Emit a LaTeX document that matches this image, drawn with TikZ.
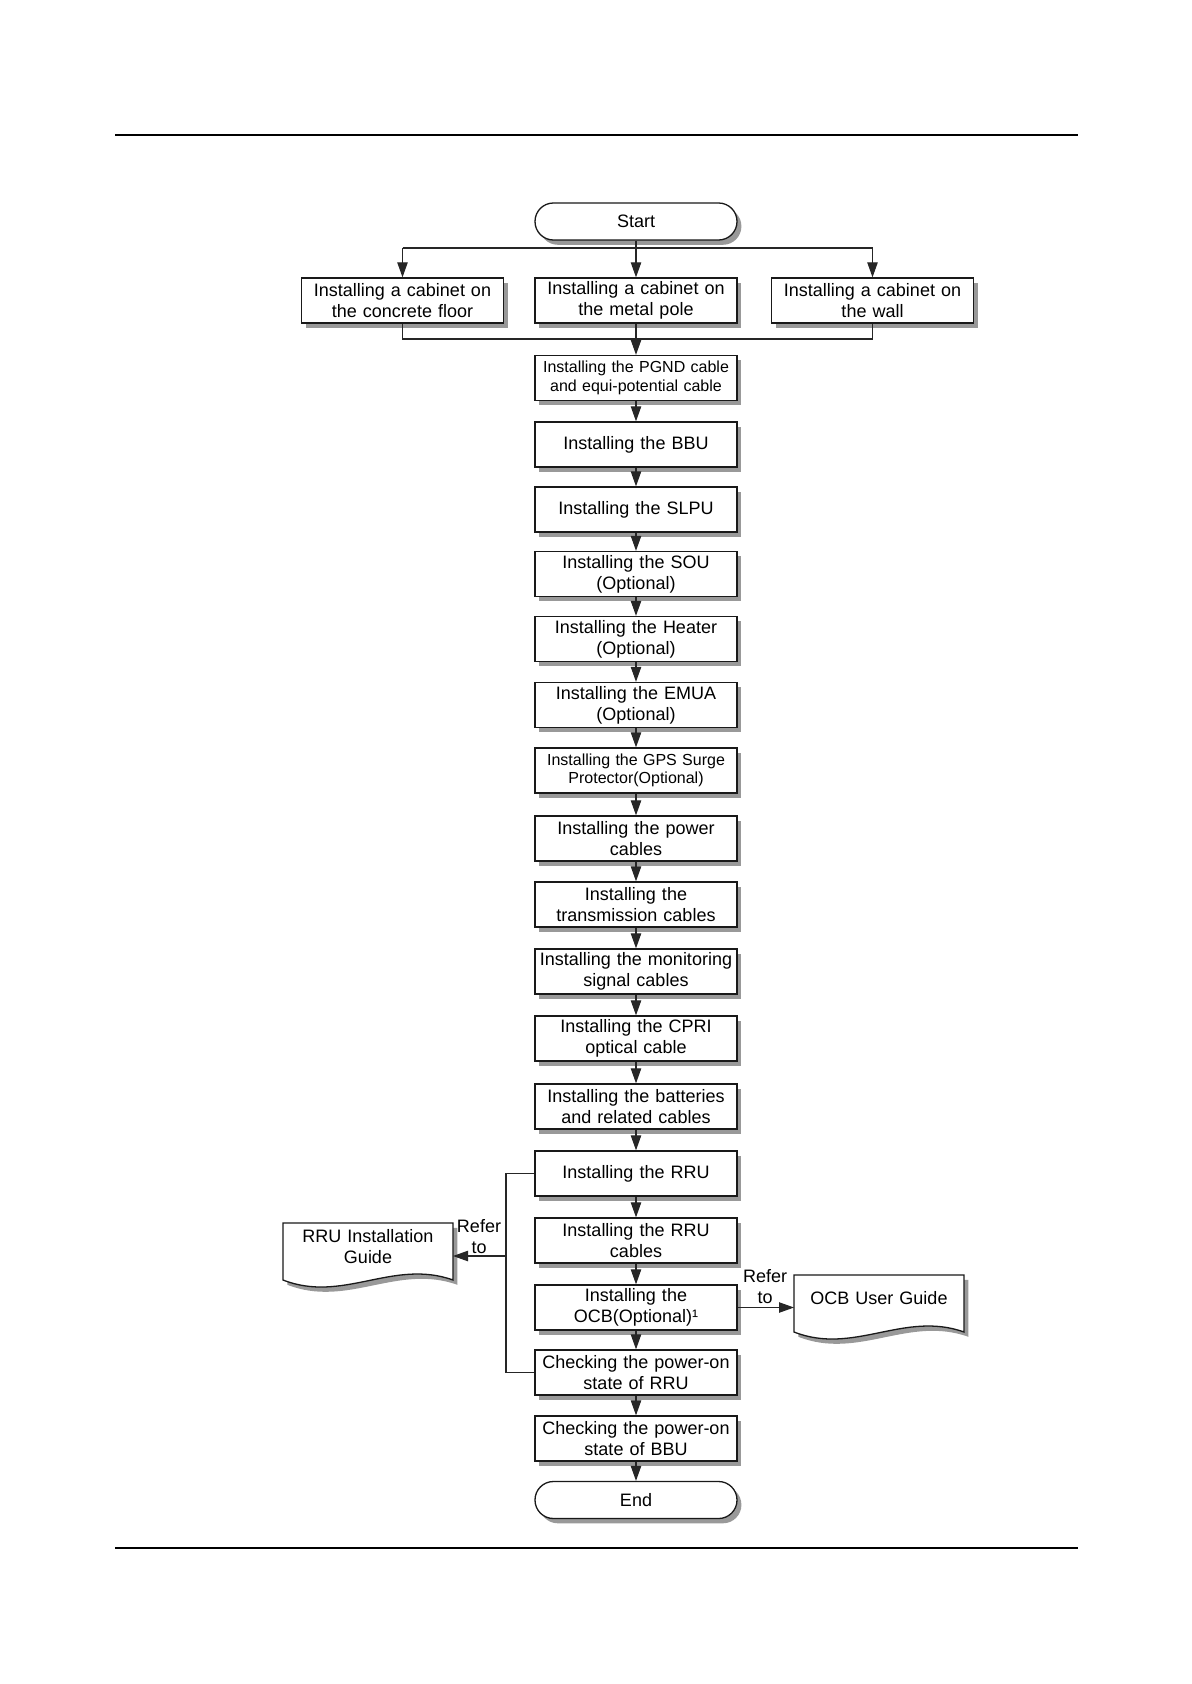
\documentclass[tikz,border=0pt]{standalone}
\usepackage{fontspec}
\setmainfont{Liberation Sans}
\usetikzlibrary{arrows.meta,shadows,calc}
\newcommand\DocOutline[2]{(#1-85,#2-23.5) -- (#1+85,#2-23.5) -- (#1+85,#2+33.5) .. controls (#1+25,#2+12) and (#1-25,#2+57) .. (#1-85,#2+33.5) -- cycle}
\begin{document}
\begin{tikzpicture}[x=0.5pt,y=-0.5pt,
  box/.style={draw=black!90, line width=0.65pt, fill=white, minimum width=101pt, minimum height=22.5pt, text width=98pt, align=center, inner sep=0pt, font=\fontsize{9}{10.5}\selectfont, drop shadow={shadow xshift=2.2pt, shadow yshift=-2.4pt, fill=black!40, opacity=1}},
  smallbox/.style={box, font=\fontsize{8}{9.3}\selectfont},
  term/.style={box, minimum height=18.5pt, rounded corners=9.2pt},
  conn/.style={draw=black!85, line width=0.55pt},
  arr/.style={conn, -{Triangle[length=7.5pt,width=5.2pt]}},
  lbl/.style={font=\fontsize{9}{10.5}\selectfont, align=center, inner sep=0pt},
  doctext/.style={lbl, text width=82pt},
  docline/.style={draw=black!90, line width=0.65pt, fill=white},
  docshadow/.style={fill=black!40, xshift=2.2pt, yshift=-2.4pt},
  rule/.style={draw=black, line width=0.8pt}
]
\useasboundingbox (0,0) rectangle (1191,1684);

% header and footer rules
\coordinate (hl) at (115,135);
\coordinate (hr) at (1078,135);
\coordinate (fl) at (115,1548);
\coordinate (fr) at (1078,1548);
\draw[rule] (hl) -- (hr);
\draw[rule] (fl) -- (fr);

% nodes
\node[term] (start) at (636,221.5) {Start};
\node[box] (cab1) at (402.5,300.5) {Installing a cabinet on\\the concrete floor};
\node[box] (cab2) at (636,300.5) {Installing a cabinet on\\the metal pole};
\node[box] (cab3) at (872.5,300.5) {Installing a cabinet on\\the wall};
\node[smallbox] (pgnd) at (636,378) {Installing the PGND cable\\and equi-potential cable};
\node[box] (bbu) at (636,444.5) {Installing the BBU};
\node[box] (slpu) at (636,509.5) {Installing the SLPU};
\node[box] (sou) at (636,574) {Installing the SOU\\(Optional)};
\node[box] (heater) at (636,639) {Installing the Heater\\(Optional)};
\node[box] (emua) at (636,705) {Installing the EMUA\\(Optional)};
\node[smallbox] (gps) at (636,770.5) {Installing the GPS Surge\\Protector(Optional)};
\node[box] (power) at (636,838.5) {Installing the power\\cables};
\node[box] (trans) at (636,904.5) {Installing the\\transmission cables};
\node[box] (mon) at (636,971.5) {Installing the monitoring\\signal cables};
\node[box] (cpri) at (636,1038.5) {Installing the CPRI\\optical cable};
\node[box] (batt) at (636,1106.5) {Installing the batteries\\and related cables};
\node[box] (rru) at (636,1173.5) {Installing the RRU};
\node[box] (rruc) at (636,1240.5) {Installing the RRU\\cables};
\node[box] (ocb) at (636,1307.5) {Installing the\\OCB(Optional)¹};
\node[box] (chkrru) at (636,1372.5) {Checking the power-on\\state of RRU};
\node[box] (chkbbu) at (636,1438.5) {Checking the power-on\\state of BBU};
\node[term] (end) at (636,1500) {End};

% documents
\fill[docshadow] \DocOutline{368}{1246.5};
\draw[docline] \DocOutline{368}{1246.5};
\node[doctext] (rrudoc) at (368,1246.5) {RRU Installation\\Guide};
\coordinate (rrudocE) at (453,1256);

\fill[docshadow] \DocOutline{879}{1298.5};
\draw[docline] \DocOutline{879}{1298.5};
\node[doctext] (ocbdoc) at (879,1298) {OCB User Guide};
\coordinate (ocbdocW) at (794,1307.5);

% branch from start
\coordinate (br) at (636,248);
\coordinate (jn) at (636,339);
\draw[arr] (start) -- (cab2);
\draw[conn] (br -| cab1) -- (br -| cab3);
\draw[arr] (br -| cab1) -- (cab1.north);
\draw[arr] (br -| cab3) -- (cab3.north);
\draw[conn] (cab1.south) -- (cab1.south |- jn) -- (cab3.south |- jn) -- (cab3.south);
\draw[arr] (cab2) -- (pgnd);

% main chain
\draw[arr] (pgnd) -- (bbu);
\draw[arr] (bbu) -- (slpu);
\draw[arr] (slpu) -- (sou);
\draw[arr] (sou) -- (heater);
\draw[arr] (heater) -- (emua);
\draw[arr] (emua) -- (gps);
\draw[arr] (gps) -- (power);
\draw[arr] (power) -- (trans);
\draw[arr] (trans) -- (mon);
\draw[arr] (mon) -- (cpri);
\draw[arr] (cpri) -- (batt);
\draw[arr] (batt) -- (rru);
\draw[arr] (rru) -- (rruc);
\draw[arr] (rruc) -- (ocb);
\draw[arr] (ocb) -- (chkrru);
\draw[arr] (chkrru) -- (chkbbu);
\draw[arr] (chkbbu) -- (end);

% bracket to RRU installation guide
\coordinate (bx) at (506,1256);
\draw[conn] (rru.west) -- (rru.west -| bx) -- (chkrru.west -| bx) -- (chkrru.west);
\draw[arr] (bx) -- (rrudocE);
\node[lbl] (ref1) at (479,1236.5) {Refer\\to};

% OCB user guide
\draw[arr] (ocb.east) -- (ocbdocW);
\node[lbl] (ref2) at (765,1287) {Refer\\to};
\end{tikzpicture}
\end{document}
